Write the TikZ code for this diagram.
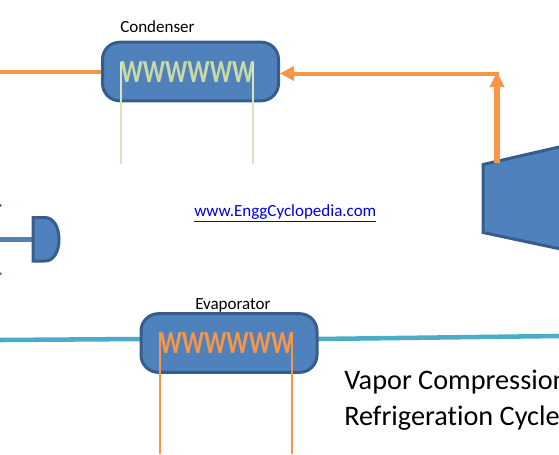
\documentclass[tikz,border=0pt]{standalone}
\usepackage{fontspec}
\setmainfont[Ligatures=NoCommon]{Carlito}
\definecolor{fillblue}{HTML}{4F81BD}
\definecolor{edgeblue}{HTML}{385D8A}
\definecolor{pipeorange}{HTML}{F79646}
\definecolor{pipeteal}{HTML}{4BACC6}
\definecolor{coilgreen}{HTML}{C9D9A3}
\definecolor{stemgreen}{HTML}{D7E4BC}
\definecolor{linkblue}{HTML}{0000E0}
\tikzset{
 unitbox/.style={draw=edgeblue,fill=fillblue,line width=2.25pt,rounded corners=13pt,minimum width=132pt,minimum height=44pt,inner sep=0pt},
 part/.style={draw=edgeblue,fill=fillblue,line width=2.25pt,line join=miter},
 hotpipe/.style={draw=pipeorange,line width=3.3pt},
 coldpipe/.style={draw=pipeteal,line width=3.4pt},
 greencoil/.style={draw=stemgreen,line width=1.7pt},
 orangecoil/.style={draw=pipeorange,line width=1.7pt},
 headtip/.style={fill=pipeorange,draw=none},
 caption/.style={inner sep=0pt,anchor=base west,font=\fontsize{12.75}{15}\selectfont},
 bigcaption/.style={inner sep=0pt,anchor=base west,font=\fontsize{21.2}{25}\selectfont},
 wave/.style={inner sep=0pt,anchor=base,font=\bfseries\fontsize{21}{24}\selectfont}
}
\begin{document}
\begin{tikzpicture}[x=0.75pt,y=-0.75pt]
\useasboundingbox (0,0) rectangle (559,454);
\clip (0,0) rectangle (559,454);
% named anchor points
\coordinate (condL) at (0,72);
\coordinate (elbow) at (497,74);
\coordinate (compOut) at (497,165);
\coordinate (valveL) at (0,239.5);
\coordinate (tealL) at (0,340);
\coordinate (tealR) at (559,336);
% pipes behind units
\draw[coldpipe] (tealL) -- (141,339);
\draw[coldpipe] (317,339) -- (tealR);
\draw[draw=fillblue,line width=3.4pt] (valveL) -- (33,239.5);
\draw[hotpipe] (condL) -- (103,72);
% units
\node[unitbox] (cond) at (190.5,71.5) {};
\node[unitbox] (evap) at (229,343) {};
% coils
\node[wave,text=coilgreen,xscale=0.88,yscale=1.15] (condw) at (187.5,82) {WWWWWW};
\node[wave,text=pipeorange,xscale=0.88,yscale=1.15] (evapw) at (226.5,353) {WWWWWW};
\coordinate (cg1) at (121,164);\coordinate (cg2) at (253,164);
\coordinate (eo1) at (160,454);\coordinate (eo2) at (292,454);
\draw[greencoil] (121,62) -- (cg1);
\draw[greencoil] (253,62) -- (cg2);
\draw[orangecoil] (160,332) -- (eo1);
\draw[orangecoil] (292,332) -- (eo2);
% compressor
\path[part] (483,164.5) -- (570,144.5) -- (570,251) -- (483,232.5) -- cycle;
\coordinate (compIn) at (497,163);
% expansion valve
\path[part] (33,217.5) -- (45,217.5) .. controls (54,217.5) and (59,228) .. (59,239.5) .. controls (59,251) and (54,261) .. (45,261) -- (33,261) -- cycle;
\fill[edgeblue] (0,204) -- (2,205) -- (0,207) -- cycle;
\fill[edgeblue] (0,272) -- (2,274) -- (0,275) -- cycle;
% compressor discharge
\draw[draw=pipeorange,line width=4pt] (compIn) -- (497,85);
\draw[hotpipe] (499,74) -- (292,74);
\fill[headtip] (497,72) -- (504.5,87) -- (489.5,87) -- cycle;
\fill[headtip] (280,73.5) -- (294,66) -- (294,81) -- cycle;
% labels
\node[caption] (t1) at (120,32) {Condenser};
\node[caption] (t2) at (195,309) {Evaporator};
\node[caption,text=linkblue] (t3) at (194,216) {\underline{www.EnggCyclopedia.com}};
\node[bigcaption] (t4) at (344,389) {Vapor Compression};
\node[bigcaption] (t5) at (344,425) {Refrigeration Cycle};
\end{tikzpicture}
\end{document}
